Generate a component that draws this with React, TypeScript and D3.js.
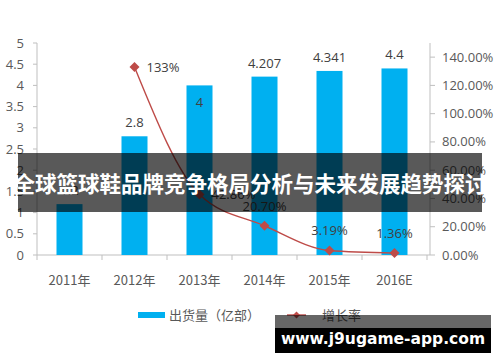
import React from "react";
import * as d3 from "d3";

const years = ["2011年", "2012年", "2013年", "2014年", "2015年", "2016E"];
const shipments = [1.2, 2.8, 4, 4.207, 4.341, 4.4];
const shipmentLabels = ["1.2", "2.8", "4", "4.207", "4.341", "4.4"];
const growth = [null, 1.33, 0.4286, 0.207, 0.0319, 0.0136];
const growthLabels = ["", "133%", "42.86%", "20.70%", "3.19%", "1.36%"];
const leftTicks = [0, 0.5, 1, 1.5, 2, 2.5, 3, 3.5, 4, 4.5, 5];
const rightTicks = [0, 0.2, 0.4, 0.6, 0.8, 1.0, 1.2, 1.4];

const W = 500;
const H = 362;
const blue = "#00b0f0";
const red = "#be4b48";
const grey = "#595959";
const axisGrey = "#bfbfbf";
const numFont = "'Open Sans', 'Liberation Sans', sans-serif";
const cjkFont = "'Noto Sans CJK SC', sans-serif";

export default function App() {
  const x = d3.scaleBand<string>().domain(years).range([37, 427]).paddingInner(0.6).paddingOuter(0.3);
  const yL = d3.scaleLinear().domain([0, 5]).range([255, 43]);
  const yR = d3.scaleLinear().domain([0, 1.5]).range([255, 43]);
  const cx = (d: string) => (x(d) ?? 0) + x.bandwidth() / 2;

  const pts = growth
    .map((g, i) => ({ g, i }))
    .filter((p) => p.g !== null) as { g: number; i: number }[];
  const line = d3
    .line<{ g: number; i: number }>()
    .x((p) => cx(years[p.i]))
    .y((p) => yR(p.g))
    .curve(d3.curveMonotoneX);

  const step = x.step();
  const bounds = d3.range(years.length + 1).map((i) => 37 + i * step);

  const diamond = (px: number, py: number, r: number) =>
    `M${px},${py - r}L${px + r},${py}L${px},${py + r}L${px - r},${py}Z`;

  // growth label placement: right of point for the first two, above for the rest
  const growthLabelPos = (i: number, g: number) => {
    const px = cx(years[i]);
    const py = yR(g);
    if (i <= 2) return { x: px + 12, y: py + 5, anchor: "start" };
    return { x: px, y: py - 15, anchor: "middle" };
  };

  return (
    <svg width={W} height={H} style={{ position: "absolute", left: 0, top: 0, background: "#fff" }}>
      {/* left axis */}
      <line x1={37} x2={37} y1={yL(5)} y2={yL(0)} stroke={axisGrey} />
      {leftTicks.map((t) => (
        <g key={t}>
          <line x1={33} x2={37} y1={yL(t)} y2={yL(t)} stroke={axisGrey} />
          <text x={24} y={yL(t)} dy="0.35em" textAnchor="end" fontFamily={numFont} fontSize={13} fill={grey}>
            {t}
          </text>
        </g>
      ))}

      {/* right axis */}
      <line x1={430} x2={430} y1={yR(1.5)} y2={yR(0)} stroke={axisGrey} />
      {rightTicks.map((t) => (
        <g key={t}>
          <line x1={430} x2={435} y1={yR(t)} y2={yR(t)} stroke={axisGrey} />
          <text x={442} y={yR(t)} dy="0.35em" fontFamily={numFont} fontSize={13} fill={grey}>
            {d3.format(".2%")(t)}
          </text>
        </g>
      ))}

      {/* x axis */}
      <line x1={37} x2={430} y1={255} y2={255} stroke={axisGrey} />
      {bounds.map((b, i) => (
        <line key={i} x1={b} x2={b} y1={255} y2={260} stroke={axisGrey} />
      ))}
      {years.map((d) => (
        <text key={d} x={cx(d)} y={285} textAnchor="middle" fontFamily={cjkFont} fontSize={13} fill={grey}>
          {d}
        </text>
      ))}

      {/* bars */}
      {years.map((d, i) => (
        <rect key={d} x={x(d)} y={yL(shipments[i])} width={x.bandwidth()} height={255 - yL(shipments[i])} fill={blue} />
      ))}
      {years.map((d, i) => {
        const top = yL(shipments[i]);
        const inside = i === 2;
        return (
          <text key={d} x={cx(d)} y={inside ? top + 22 : top - 9} textAnchor="middle" fontFamily={numFont} fontSize={13} fill="#404040">
            {shipmentLabels[i]}
          </text>
        );
      })}

      {/* growth line */}
      <path d={line(pts) ?? ""} fill="none" stroke={red} strokeWidth={1.4} />
      {pts.map((p) => (
        <path key={p.i} d={diamond(cx(years[p.i]), yR(p.g), 5)} fill={red} />
      ))}
      {pts.map((p) => {
        const pos = growthLabelPos(p.i, p.g);
        return (
          <text key={p.i} x={pos.x} y={pos.y} textAnchor={pos.anchor} fontFamily={numFont} fontSize={13} fill="#404040">
            {growthLabels[p.i]}
          </text>
        );
      })}

      {/* legend */}
      <rect x={138} y={312} width={27} height={6} fill={blue} />
      <text x={169} y={320} fontFamily={cjkFont} fontSize={13} fill={grey}>
        出货量（亿部）
      </text>
      <line x1={287} x2={306} y1={315} y2={315} stroke={red} strokeWidth={1.4} />
      <path d={diamond(296.5, 315, 3.5)} fill={red} />
      <text x={322} y={320} fontFamily={cjkFont} fontSize={13} fill={grey}>
        增长率
      </text>

      {/* title banner */}
      <rect x={18} y={153} width={464} height={59} fill="rgba(0,0,0,0.65)" />
      <text x={250} y={192} textAnchor="middle" fontFamily={cjkFont} fontSize={21.5} fontWeight="bold" fill="#fff">
        全球篮球鞋品牌竞争格局分析与未来发展趋势探讨
      </text>

      {/* url banner */}
      <rect x={275} y={315} width={216} height={13} fill="rgba(0,0,0,0.6)" />
      <rect x={275} y={328} width={216} height={25} fill="#000" />
      <text x={383} y={344} textAnchor="middle" fontFamily="'DejaVu Sans', sans-serif" fontSize={15.5} fontWeight="bold" fill="#fff">
        www.j9ugame-app.com
      </text>
    </svg>
  );
}
